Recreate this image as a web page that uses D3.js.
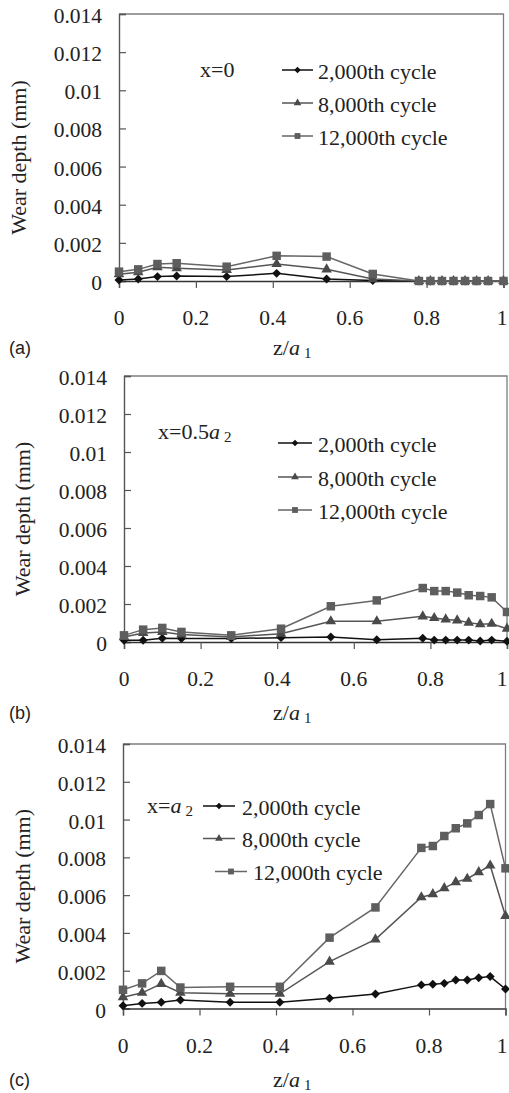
<!DOCTYPE html>
<html>
<head>
<meta charset="utf-8">
<script src="https://cdn.jsdelivr.net/npm/d3@7/dist/d3.min.js"></script>
<style>
  html, body { margin: 0; padding: 0; background: #fff; }
  svg { display: block; }
</style>
</head>
<body>
<svg id="chart" width="509" height="1093"></svg>
<script>
// Normalised position along the contact, z/a1
const zPos = [0, 0.05, 0.1, 0.15, 0.28, 0.41, 0.54, 0.66, 0.78, 0.81, 0.84, 0.87, 0.9, 0.93, 0.96, 1.0];

const cycleLabels = ["2,000th cycle", "8,000th cycle", "12,000th cycle"];

// Wear depth (mm), section x = 0
const wearA2000  = [0.00005, 0.0001, 0.00023, 0.00026, 0.00023, 0.0004, 0.0001, 0.00002, 0, 0, 0, 0, 0, 0, 0, 0];
const wearA8000  = [0.00035, 0.00046, 0.00072, 0.00067, 0.00058, 0.00089, 0.00061, 0.0001, 0, 0, 0, 0, 0, 0, 0, 0];
const wearA12000 = [0.00049, 0.00061, 0.00089, 0.00093, 0.00075, 0.00132, 0.00128, 0.00037, 0, 0, 0, 0, 0, 0, 0, 0];

// Wear depth (mm), section x = 0.5 a2
const wearB2000  = [0.00009, 0.00009, 0.0002, 0.00018, 0.00018, 0.00023, 0.00026, 0.00012, 0.0002, 0.0001, 0.0001, 0.0001, 0.0001, 0.00005, 0.0001, 0.00004];
const wearB8000  = [0.00026, 0.00047, 0.00053, 0.0004, 0.00026, 0.00044, 0.00109, 0.00109, 0.00135, 0.00126, 0.00119, 0.00114, 0.00102, 0.00093, 0.00096, 0.0007];
const wearB12000 = [0.00035, 0.00065, 0.00074, 0.00053, 0.00035, 0.0007, 0.00188, 0.00219, 0.00284, 0.00268, 0.00268, 0.0026, 0.00246, 0.00242, 0.00235, 0.00158];

// Wear depth (mm), section x = a2
const wearC2000  = [0.00015, 0.00027, 0.00033, 0.00045, 0.00033, 0.00033, 0.00054, 0.00077, 0.00125, 0.00128, 0.00133, 0.00151, 0.00151, 0.00163, 0.00169, 0.00103];
const wearC8000  = [0.0006, 0.00083, 0.0013, 0.00084, 0.00078, 0.00078, 0.00248, 0.00366, 0.00589, 0.00605, 0.00637, 0.00669, 0.00687, 0.00722, 0.00757, 0.0049];
const wearC12000 = [0.00099, 0.00133, 0.00199, 0.00111, 0.00115, 0.00115, 0.00375, 0.00535, 0.0085, 0.0086, 0.00913, 0.00954, 0.0098, 0.01024, 0.01082, 0.00742];

const yTicks = [0, 0.002, 0.004, 0.006, 0.008, 0.01, 0.012, 0.014];
const yTickLabels = ["0", "0.002", "0.004", "0.006", "0.008", "0.01", "0.012", "0.014"];
const xTicks = [0, 0.2, 0.4, 0.6, 0.8, 1];
const xTickLabels = ["0", "0.2", "0.4", "0.6", "0.8", "1"];

const SERIF = "'Liberation Serif', 'DejaVu Serif', 'Times New Roman', serif";
const SANS = "'Liberation Sans', Arial, sans-serif";

const svg = d3.select("#chart");

// marker styles per cycle series (diamond = square turned 45 degrees)
const seriesStyle = [
  { symbol: d3.symbolSquare, rotate: 45, size: 40, legendSize: 22, color: "#111", line: "#111" },
  { symbol: d3.symbolTriangle, rotate: 0, size: 48, legendSize: 26, color: "#4a4a4a", line: "#555" },
  { symbol: d3.symbolSquare, rotate: 0, size: 72, legendSize: 34, color: "#5e5e5e", line: "#666" }
];

const panels = [
  {
    series: [wearA2000, wearA8000, wearA12000],
    left: 119, right: 503.5, top: 14, bottom: 281,
    titleX: 18, tag: "(a)", captionY: 348,
    note: { x: 200, y: 70, parts: [["x=0", "normal"]] },
    legend: [ { x0: 282, x1: 313, tx: 318, y: 70 }, { x0: 282, x1: 313, tx: 318, y: 103 }, { x0: 282, x1: 313, tx: 318, y: 136 } ]
  },
  {
    series: [wearB2000, wearB8000, wearB12000],
    left: 124, right: 507, top: 376, bottom: 642,
    titleX: 22, tag: "(b)", captionY: 713,
    note: { x: 158, y: 432, parts: [["x=0.5", "normal"], ["a", "italic"], ["2", "sub"]] },
    legend: [ { x0: 278, x1: 312, tx: 318, y: 443 }, { x0: 278, x1: 312, tx: 318, y: 477 }, { x0: 278, x1: 312, tx: 318, y: 510 } ]
  },
  {
    series: [wearC2000, wearC8000, wearC12000],
    left: 123, right: 505.5, top: 744, bottom: 1008.5,
    titleX: 22, tag: "(c)", captionY: 1080,
    note: { x: 147, y: 806, parts: [["x=", "normal"], ["a", "italic"], ["2", "sub"]] },
    legend: [ { x0: 203, x1: 235, tx: 242, y: 806 }, { x0: 203, x1: 235, tx: 242, y: 838.5 }, { x0: 215, x1: 247, tx: 253, y: 871.5 } ]
  }
];

function addParts(textSel, parts) {
  parts.forEach(([t, kind]) => {
    const ts = textSel.append("tspan").text(t);
    if (kind === "italic") ts.attr("font-style", "italic");
    if (kind === "sub") ts.attr("font-size", 15).attr("dx", 4).attr("dy", 3);
  });
}

function serifText(g) {
  return g.append("text").attr("font-family", SERIF).attr("fill", "#222");
}

panels.forEach(p => {
  const x = d3.scaleLinear().domain([0, 1]).range([p.left, p.right]);
  const y = d3.scaleLinear().domain([0, 0.014]).range([p.bottom, p.top]);
  const g = svg.append("g");

  // plot frame (top and right edges)
  g.append("path")
    .attr("d", `M${p.left},${p.top}H${p.right}V${p.bottom}`)
    .attr("fill", "none").attr("stroke", "#7d7d7d").attr("stroke-width", 1.3);

  // y axis: ticks point into the plot
  const yAxis = g.append("g").attr("transform", `translate(${p.left},0)`)
    .call(d3.axisRight(y).tickValues(yTicks).tickSize(7).tickFormat(""));
  yAxis.select(".domain").attr("stroke", "#555").attr("stroke-width", 1.4);
  yAxis.selectAll(".tick line").attr("stroke", "#555").attr("stroke-width", 1.2);

  yTicks.forEach((v, i) => {
    serifText(g)
      .attr("x", p.left - 17).attr("y", y(v) + 2)
      .attr("text-anchor", "end").attr("dominant-baseline", "central")
      .attr("font-size", 21.5).text(yTickLabels[i]);
  });

  // x axis: ticks point outward
  const xAxis = g.append("g").attr("transform", `translate(0,${p.bottom})`)
    .call(d3.axisBottom(x).tickValues(xTicks).tickSize(7).tickFormat(""));
  xAxis.select(".domain").attr("stroke", "#333").attr("stroke-width", 1.4);
  xAxis.selectAll(".tick line").attr("stroke", "#555").attr("stroke-width", 1.2);

  xTicks.forEach((v, i) => {
    serifText(g)
      .attr("x", Math.min(x(v), 502)).attr("y", p.bottom + 37)
      .attr("text-anchor", "middle").attr("dominant-baseline", "central")
      .attr("font-size", 21.5).text(xTickLabels[i]);
  });

  // axis titles
  const midY = (p.top + p.bottom) / 2 + 10;
  serifText(g)
    .attr("transform", `translate(${p.titleX},${midY}) rotate(-90)`)
    .attr("text-anchor", "middle").attr("dominant-baseline", "central")
    .attr("font-size", 22).text("Wear depth (mm)");

  const xt = serifText(g).attr("x", 273).attr("y", p.captionY + 7).attr("font-size", 22);
  addParts(xt, [["z/", "normal"], ["a", "italic"], ["1", "sub"]]);

  g.append("text").attr("font-family", SANS).attr("fill", "#222")
    .attr("x", 9).attr("y", p.captionY).attr("dominant-baseline", "central")
    .attr("font-size", 18).text(p.tag);

  // series lines and markers
  const line = d3.line().x((d, i) => x(zPos[i])).y(d => y(d));
  p.series.forEach((vals, si) => {
    const st = seriesStyle[si];
    g.append("path").datum(vals)
      .attr("d", line).attr("fill", "none")
      .attr("stroke", st.line).attr("stroke-width", 1.5);
    g.selectAll(null).data(vals).join("path")
      .attr("transform", (d, i) => `translate(${x(zPos[i])},${y(d)}) rotate(${st.rotate})`)
      .attr("d", d3.symbol().type(st.symbol).size(st.size))
      .attr("fill", st.color);
  });

  // section note
  const nt = serifText(g).attr("x", p.note.x).attr("y", p.note.y + 7).attr("font-size", 22);
  addParts(nt, p.note.parts);

  // legend
  p.legend.forEach((L, si) => {
    const st = seriesStyle[si];
    g.append("line").attr("x1", L.x0).attr("x2", L.x1).attr("y1", L.y).attr("y2", L.y)
      .attr("stroke", st.line).attr("stroke-width", 1.5);
    g.append("path")
      .attr("transform", `translate(${(L.x0 + L.x1) / 2},${L.y}) rotate(${st.rotate})`)
      .attr("d", d3.symbol().type(st.symbol).size(st.legendSize))
      .attr("fill", st.color);
    serifText(g)
      .attr("x", L.tx).attr("y", L.y + 1).attr("dominant-baseline", "central")
      .attr("font-size", 22).text(cycleLabels[si]);
  });
});
</script>
</body>
</html>
